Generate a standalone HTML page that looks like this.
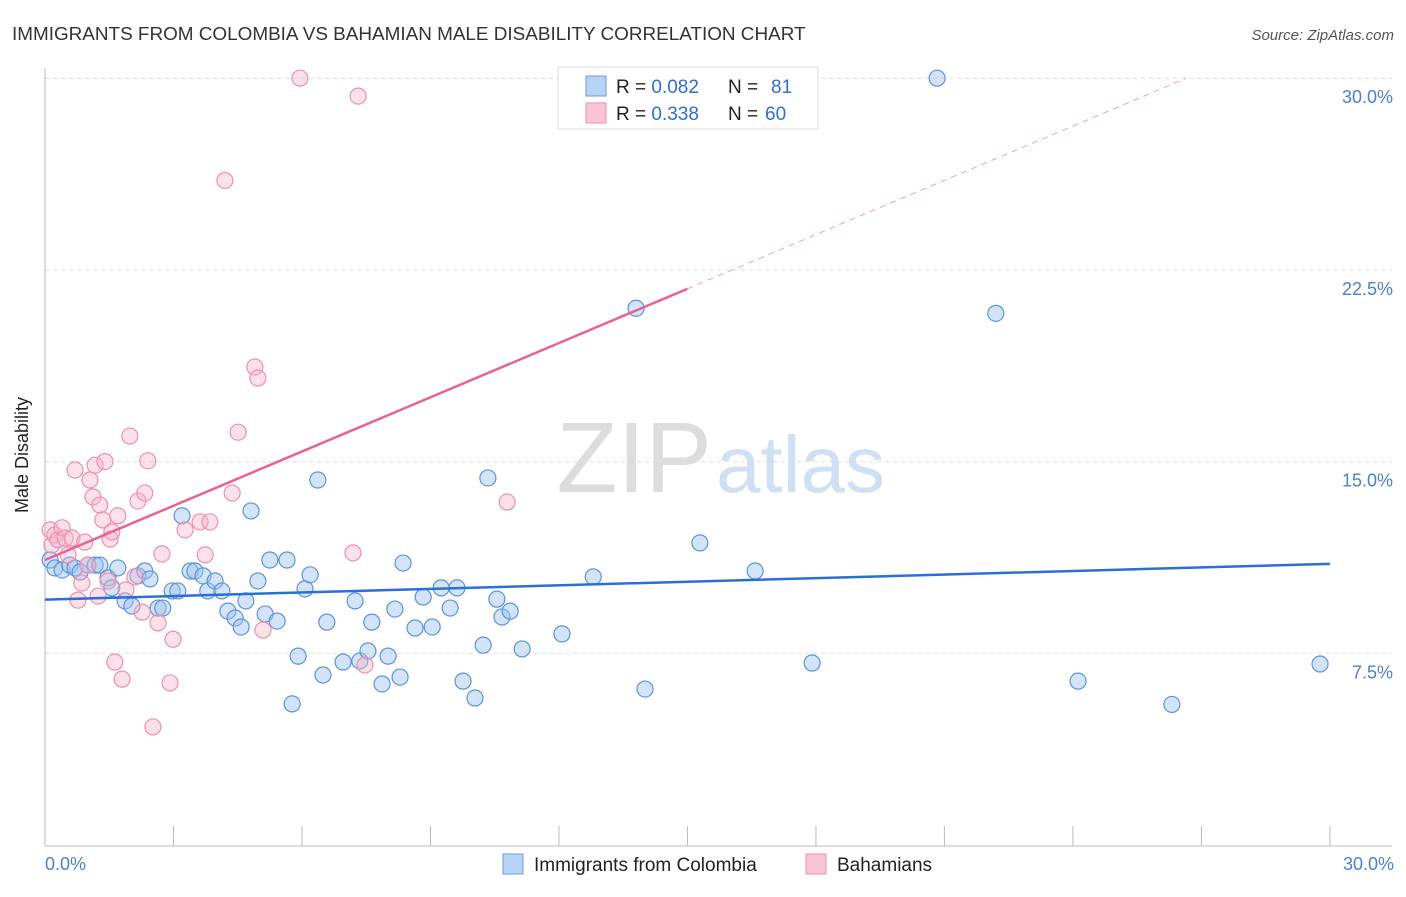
<!DOCTYPE html>
<html><head><meta charset="utf-8"><style>
body{margin:0;background:#fff;font-family:"Liberation Sans",sans-serif}
svg text{font-family:"Liberation Sans",sans-serif}
</style></head><body>
<svg width="1406" height="892" xmlns="http://www.w3.org/2000/svg">
<text x="12" y="40" font-size="18.9" fill="#333">IMMIGRANTS FROM COLOMBIA VS BAHAMIAN MALE DISABILITY CORRELATION CHART</text>
<text x="1394" y="40" font-size="15" fill="#555" font-style="italic" text-anchor="end">Source: ZipAtlas.com</text>
<g id="grid"></g>
<text x="712" y="492" font-size="100" fill="#ddd" text-anchor="end" font-family="Liberation Serif">ZIP</text>
<text x="716" y="492" font-size="80" fill="#cfe0f5">atlas</text>
<line x1="45" y1="68" x2="45" y2="846" stroke="#bbb"/>
<line x1="45" y1="846" x2="1392" y2="846" stroke="#bbb"/>
<text x="28" y="455" font-size="18" fill="#222" transform="rotate(-90 28 455)" text-anchor="middle">Male Disability</text>
<text x="45" y="870" font-size="18" fill="#4a7fd4">0.0%</text>
<text x="1394" y="870" font-size="18" fill="#4a7fd4" text-anchor="end">30.0%</text>
<g id="pts"></g>
<g id="lines"></g>
<g>
<rect x="558" y="67" width="260" height="62" fill="#fff" stroke="#ddd"/>
<rect x="586" y="76" width="20" height="20" fill="#b8d3f5" stroke="#6a9ee0"/>
<text x="616" y="93" font-size="19" fill="#222">R = <tspan fill="#2f6fd0">0.082</tspan></text>
<text x="728" y="93" font-size="19" fill="#222">N =</text>
<text x="771" y="93" font-size="19" fill="#2f6fd0">81</text>
<rect x="586" y="103" width="20" height="20" fill="#f9c5d5" stroke="#ee90ad"/>
<text x="616" y="120" font-size="19" fill="#222">R = <tspan fill="#2f6fd0">0.338</tspan></text>
<text x="728" y="120" font-size="19" fill="#222">N =</text>
<text x="765" y="120" font-size="19" fill="#2f6fd0">60</text>
</g>
<g>
<rect x="503" y="854" width="20" height="20" fill="#b8d3f5" stroke="#6a9ee0"/>
<text x="534" y="871" font-size="19" fill="#222">Immigrants from Colombia</text>
<rect x="806" y="854" width="20" height="20" fill="#f9c5d5" stroke="#ee90ad"/>
<text x="837" y="871" font-size="19" fill="#222">Bahamians</text>
</g>
</svg>
<script>
const yTicks=[7.5,15,22.5,30];
const xTicks=[0,3,6,9,12,15,18,21,24,27,30];
const blueX=[0.12,0.23,0.4,0.58,0.7,0.82,1.0,1.17,1.28,1.47,1.56,1.7,1.87,2.03,2.17,2.33,2.45,2.64,2.75,2.97,3.1,3.2,3.39,3.5,3.69,3.8,3.97,4.13,4.27,4.44,4.58,4.69,4.81,4.97,5.14,5.25,5.42,5.65,5.77,5.91,6.07,6.19,6.37,6.49,6.58,6.96,7.24,7.35,7.54,7.63,7.87,8.01,8.17,8.29,8.36,8.64,8.83,9.04,9.25,9.46,9.62,9.76,10.04,10.23,10.34,10.55,10.67,10.86,11.14,12.07,12.8,13.8,14.01,15.29,16.58,17.91,20.83,22.2,24.12,26.31,29.77];
const blueY=[11.15,10.84,10.76,10.95,10.84,10.68,10.95,10.95,10.95,10.45,10.06,10.84,9.55,9.35,10.53,10.72,10.41,9.27,9.27,9.94,9.94,12.88,10.72,10.72,10.53,9.94,10.33,9.94,9.15,8.88,8.53,9.55,13.07,10.33,9.04,11.15,8.76,11.15,5.52,7.39,10.02,10.57,14.28,6.65,8.72,7.16,9.55,7.2,7.59,8.72,6.3,7.39,9.23,6.57,11.03,8.49,9.7,8.53,10.06,9.27,10.06,6.41,5.75,7.82,14.36,9.62,8.92,9.15,7.67,8.26,10.49,21.0,6.1,11.82,10.72,7.12,30.0,20.8,6.41,5.5,7.08];
const pinkX=[0.12,0.16,0.23,0.3,0.4,0.47,0.54,0.63,0.7,0.77,0.86,0.93,1.0,1.05,1.12,1.17,1.24,1.28,1.35,1.4,1.47,1.52,1.56,1.63,1.7,1.8,1.89,1.98,2.1,2.17,2.27,2.33,2.4,2.52,2.64,2.73,2.92,2.99,3.27,3.62,3.74,3.85,4.2,4.37,4.51,4.9,4.97,5.09,5.95,7.31,7.19,7.47,10.79];
const pinkY=[12.33,11.74,12.13,11.94,12.41,12.01,11.35,12.01,14.67,9.58,10.25,11.85,10.95,14.28,13.62,14.86,9.74,13.3,12.72,15.0,10.33,11.97,12.25,7.16,12.88,6.49,9.98,16.0,10.49,13.46,9.11,13.77,15.03,4.62,8.69,11.39,6.34,8.05,12.33,12.64,11.35,12.64,26.0,13.77,16.15,18.7,18.27,8.41,30.0,29.3,11.43,7.04,13.42];
const blueLine=[9.6,11.0];
const pinkLine=[11.15,21.76];
const X=v=>45+v*42.83, Y=v=>845-v*25.56;
const ns="http://www.w3.org/2000/svg";
function mk(t,a,p){const e=document.createElementNS(ns,t);for(const k in a)e.setAttribute(k,a[k]);p.appendChild(e);return e;}
const grid=document.getElementById('grid'),pts=document.getElementById('pts'),lines=document.getElementById('lines');
yTicks.forEach(v=>{
 const l=mk('line',{x1:45,x2:1392,y1:Y(v),y2:Y(v),stroke:'#ddd','stroke-dasharray':'4,4'},grid);
 
 
 const t=mk('text',{x:1393,y:Y(v)+25,'font-size':18,fill:'#4a7fd4','text-anchor':'end'},grid);
 t.textContent=v.toFixed(1)+'%';
 
 
});
xTicks.forEach(v=>{
 const l=mk('line',{x1:X(v),x2:X(v),y1:826,y2:846,stroke:'#bbb'},grid);
 
 
});
blueX.forEach((x,i)=>{
 const c=mk('circle',{cx:X(x),cy:Y(blueY[i]),r:8,fill:'rgba(160,195,240,0.45)',stroke:'#5b93de','stroke-width':1.2},pts);
 
 
});
pinkX.forEach((x,i)=>{
 const c=mk('circle',{cx:X(x),cy:Y(pinkY[i]),r:8,fill:'rgba(248,180,200,0.4)',stroke:'#ee8fae','stroke-width':1.2},pts);
 
 
});
const bl=mk('line',{x1:X(0),y1:Y(blueLine[0]),x2:X(30),y2:Y(blueLine[1]),stroke:'#2a6fd6','stroke-width':2.5},lines);


const slope=(pinkLine[1]-pinkLine[0])/15;
const pl=mk('line',{x1:X(0),y1:Y(pinkLine[0]),x2:X(15),y2:Y(pinkLine[1]),stroke:'#e8638f','stroke-width':2.5},lines);


const xe=(30-pinkLine[0])/slope;
const pd=mk('line',{x1:X(15),y1:Y(pinkLine[1]),x2:X(xe),y2:Y(30),stroke:'#f0a0b8','stroke-width':1,'stroke-dasharray':'6,5'},lines);


</script>
</body></html>
